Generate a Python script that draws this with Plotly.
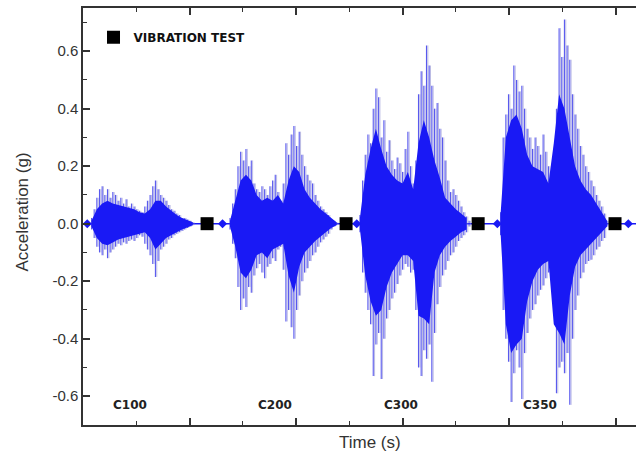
import plotly.graph_objects as go

# ---------------- data ----------------
# Peak envelope of each vibration burst, sampled every 2.5 s from its start time
c100_t0, c200_t0, c300_t0, c350_t0 = 8.0, 138.0, 260.0, 392.0
peak_dt = 2.5
c100_up = [0.02, 0.05, 0.09, 0.12, 0.13, 0.10, 0.12, 0.09, 0.11, 0.10, 0.08, 0.09, 0.07, 0.085, 0.06,
           0.07, 0.06, 0.05, 0.045, 0.04, 0.06, 0.08, 0.10, 0.13, 0.15, 0.12, 0.10, 0.09, 0.08, 0.065,
           0.05, 0.045, 0.035, 0.03, 0.02, 0.02, 0.015, 0.01, 0.005]
c100_lo = [-0.02, -0.05, -0.08, -0.10, -0.11, -0.09, -0.12, -0.10, -0.09, -0.08, -0.07, -0.075, -0.065,
           -0.07, -0.06, -0.055, -0.06, -0.05, -0.04, -0.045, -0.07, -0.09, -0.11, -0.14, -0.185, -0.13,
           -0.09, -0.08, -0.07, -0.055, -0.05, -0.04, -0.035, -0.03, -0.025, -0.02, -0.015, -0.01, -0.005]
c200_up = [0.02, 0.07, 0.12, 0.20, 0.25, 0.22, 0.26, 0.20, 0.22, 0.14, 0.12, 0.11, 0.13, 0.12, 0.10,
           0.13, 0.15, 0.17, 0.11, 0.08, 0.14, 0.28, 0.24, 0.31, 0.34, 0.27, 0.32, 0.24, 0.20, 0.17,
           0.15, 0.14, 0.10, 0.08, 0.06, 0.05, 0.04, 0.03, 0.015, 0.01, 0.005]
c200_lo = [-0.02, -0.07, -0.12, -0.22, -0.30, -0.26, -0.29, -0.22, -0.24, -0.18, -0.155, -0.14, -0.17,
           -0.19, -0.15, -0.14, -0.12, -0.13, -0.09, -0.08, -0.16, -0.34, -0.30, -0.36, -0.40, -0.30,
           -0.25, -0.20, -0.17, -0.155, -0.13, -0.11, -0.10, -0.08, -0.065, -0.055, -0.045, -0.035,
           -0.02, -0.01, -0.005]
c300_up = [0.03, 0.15, 0.24, 0.31, 0.28, 0.40, 0.47, 0.44, 0.30, 0.36, 0.25, 0.29, 0.22, 0.19, 0.23,
           0.21, 0.18, 0.26, 0.32, 0.20, 0.14, 0.22, 0.45, 0.53, 0.48, 0.62, 0.55, 0.48, 0.40, 0.42,
           0.33, 0.30, 0.22, 0.15, 0.11, 0.12, 0.10, 0.08, 0.06, 0.04, 0.025, 0.01]
c300_lo = [-0.03, -0.17, -0.24, -0.30, -0.35, -0.53, -0.42, -0.38, -0.54, -0.40, -0.33, -0.30, -0.26,
           -0.24, -0.21, -0.18, -0.16, -0.14, -0.15, -0.17, -0.16, -0.30, -0.50, -0.53, -0.44, -0.47,
           -0.42, -0.55, -0.38, -0.28, -0.22, -0.18, -0.16, -0.13, -0.11, -0.10, -0.08, -0.06, -0.05,
           -0.04, -0.03, -0.01]
c350_up = [0.04, 0.30, 0.38, 0.45, 0.40, 0.55, 0.50, 0.46, 0.48, 0.40, 0.33, 0.30, 0.26, 0.30, 0.27,
           0.24, 0.31, 0.25, 0.20, 0.18, 0.26, 0.40, 0.68, 0.58, 0.71, 0.62, 0.57, 0.45, 0.38, 0.33,
           0.27, 0.24, 0.20, 0.18, 0.15, 0.13, 0.10, 0.08, 0.06, 0.035, 0.01]
c350_lo = [-0.04, -0.30, -0.40, -0.48, -0.62, -0.52, -0.44, -0.50, -0.61, -0.45, -0.38, -0.33, -0.30,
           -0.28, -0.25, -0.23, -0.215, -0.19, -0.17, -0.16, -0.30, -0.59, -0.50, -0.48, -0.52, -0.45,
           -0.63, -0.40, -0.30, -0.25, -0.19, -0.17, -0.14, -0.13, -0.125, -0.11, -0.09, -0.08, -0.06,
           -0.05, -0.01]

# Dense core of each burst, sampled every 5 s from its start time
core_dt = 5.0
c100_core_up = [0.01, 0.05, 0.07, 0.08, 0.07, 0.065, 0.06, 0.055, 0.05, 0.04, 0.035, 0.05, 0.08, 0.08,
                0.06, 0.045, 0.03, 0.02, 0.012, 0.005]
c100_core_lo = [-0.01, -0.05, -0.07, -0.075, -0.065, -0.055, -0.05, -0.045, -0.04, -0.035, -0.03, -0.05,
                -0.09, -0.07, -0.05, -0.04, -0.03, -0.02, -0.012, -0.005]
c200_core_up = [0.01, 0.08, 0.15, 0.17, 0.15, 0.10, 0.08, 0.09, 0.08, 0.10, 0.07, 0.15, 0.20, 0.18,
                0.12, 0.09, 0.07, 0.05, 0.035, 0.02, 0.005]
c200_core_lo = [-0.01, -0.08, -0.17, -0.19, -0.16, -0.11, -0.10, -0.12, -0.09, -0.08, -0.07, -0.18,
                -0.24, -0.15, -0.10, -0.08, -0.06, -0.045, -0.03, -0.015, -0.005]
c300_core_up = [0.02, 0.17, 0.26, 0.33, 0.26, 0.20, 0.17, 0.15, 0.14, 0.18, 0.12, 0.28, 0.36, 0.30,
                0.22, 0.16, 0.09, 0.07, 0.05, 0.035, 0.02]
c300_core_lo = [-0.02, -0.18, -0.27, -0.32, -0.30, -0.22, -0.17, -0.14, -0.11, -0.11, -0.13, -0.32,
                -0.33, -0.35, -0.17, -0.11, -0.08, -0.06, -0.045, -0.03, -0.02]
c350_core_up = [0.03, 0.30, 0.36, 0.38, 0.33, 0.24, 0.20, 0.19, 0.18, 0.14, 0.28, 0.45, 0.40, 0.30,
                0.20, 0.15, 0.12, 0.10, 0.07, 0.04, 0.01]
c350_core_lo = [-0.03, -0.35, -0.45, -0.42, -0.40, -0.27, -0.20, -0.16, -0.14, -0.13, -0.35, -0.38,
                -0.42, -0.25, -0.15, -0.11, -0.09, -0.07, -0.05, -0.03, -0.01]

# Small blips on the quiet baseline between bursts
blip_t = [4.0, 131.0, 257.0, 389.0, 512.0]
blip_a = [0.0, 0.0, 0.0, 0.0, 0.0]

# Vibration-test markers
test_t = [116.5, 247.0, 371.0, 499.5]
test_a = [0.0, 0.0, 0.0, 0.0]

# Case labels
case_names = ["C100", "C200", "C300", "C350"]
case_t = [44.0, 180.0, 298.5, 429.0]
case_y = -0.63

y_tickvals = [-0.6, -0.4, -0.2, 0.0, 0.2, 0.4, 0.6]
y_ticktext = ["-0.6", "-0.4", "-0.2", "0.0", "0.2", "0.4", "0.6"]

# ---------------- build figure ----------------
bursts = [
    (c100_t0, c100_up, c100_lo, c100_core_up, c100_core_lo),
    (c200_t0, c200_up, c200_lo, c200_core_up, c200_core_lo),
    (c300_t0, c300_up, c300_lo, c300_core_up, c300_core_lo),
    (c350_t0, c350_up, c350_lo, c350_core_up, c350_core_lo),
]
blue = "rgb(25,25,245)"
label_font = "DejaVu Sans, Verdana, sans-serif"

fig = go.Figure()

# baseline
fig.add_hline(y=0, line=dict(color=blue, width=1.6), layer="below")

# light in-between strokes (the greyish fringe of the trace)
ix, iy = [], []
for t0, up, lo, cu, cl in bursts:
    for i, (u, l) in enumerate(zip(up, lo)):
        t = t0 + i * peak_dt + peak_dt / 2
        ix += [t, t, None]
        iy += [u, l, None]
fig.add_trace(go.Scatter(x=ix, y=iy, mode="lines", showlegend=False, hoverinfo="skip",
                         line=dict(color="rgba(130,130,205,0.55)", width=1)))

# peak spikes: one vertical stroke per sample
sx, sy = [], []
for t0, up, lo, cu, cl in bursts:
    for i, (u, l) in enumerate(zip(up, lo)):
        t = t0 + i * peak_dt
        sx += [t, t, None]
        sy += [u, l, None]
fig.add_trace(go.Scatter(x=sx, y=sy, mode="lines", showlegend=False, hoverinfo="skip",
                         line=dict(color="rgba(60,60,235,0.85)", width=1.1)))

# dense core
for t0, up, lo, cu, cl in bursts:
    ct = [t0 + i * core_dt for i in range(len(cu))]
    fig.add_trace(go.Scatter(x=ct + ct[::-1], y=cu + cl[::-1], mode="lines", fill="toself",
                             fillcolor=blue, line=dict(width=0),
                             showlegend=False, hoverinfo="skip"))

fig.add_trace(go.Scatter(x=blip_t, y=blip_a, mode="markers", showlegend=False, hoverinfo="skip",
                         marker=dict(symbol="diamond", size=7, color=blue)))

fig.add_trace(go.Scatter(x=test_t, y=test_a, mode="markers", name="VIBRATION TEST",
                         marker=dict(symbol="square", size=13, color="black")))

for name, t in zip(case_names, case_t):
    fig.add_annotation(x=t, y=case_y, text=name, showarrow=False,
                       font=dict(family=label_font, size=12, color="#222", weight="bold"))

fig.add_annotation(xref="paper", yref="paper", x=0.519, y=-0.043, text="Time (s)", showarrow=False,
                   yanchor="middle", font=dict(family="Liberation Sans, Arial", size=17, color="#333"))
fig.add_annotation(xref="paper", yref="paper", x=-0.11, y=0.51, text="Acceleration (g)", showarrow=False,
                   textangle=-90, xanchor="center", yanchor="middle",
                   font=dict(family="Liberation Sans, Arial", size=17, color="#333"))

axis_col = "#333333"
fig.update_layout(
    width=636, height=458,
    margin=dict(l=83, r=0, t=8, b=33),
    plot_bgcolor="white", paper_bgcolor="white",
    font=dict(family="Liberation Sans, Arial", color="#333"),
    showlegend=True,
    legend=dict(x=0.019, y=0.93, xanchor="left", yanchor="middle", bgcolor="rgba(0,0,0,0)",
                itemwidth=30, font=dict(family=label_font, size=12, color="#111", weight="bold")),
    xaxis=dict(range=[0, 519.2], showgrid=False, zeroline=False, showline=True, linecolor=axis_col,
               linewidth=1.5, mirror="allticks", ticks="inside", ticklen=7, tickwidth=1.5,
               tickcolor=axis_col, tick0=0, dtick=100, showticklabels=False,
               minor=dict(dtick=50, ticks="inside", ticklen=4, tickwidth=1.2, tickcolor=axis_col)),
    yaxis=dict(range=[-0.70, 0.75], showgrid=False, zeroline=False, showline=True, linecolor=axis_col,
               linewidth=1.5, ticks="inside", ticklen=7, tickwidth=1.5, tickcolor=axis_col,
               tickvals=y_tickvals, ticktext=y_ticktext, tickfont=dict(size=15, color="#333"),
               minor=dict(tickvals=[-0.5, -0.3, -0.1, 0.1, 0.3, 0.5, 0.7], ticks="inside", ticklen=4,
                          tickwidth=1.2, tickcolor=axis_col)),
)

fig.write_html("out.html")
